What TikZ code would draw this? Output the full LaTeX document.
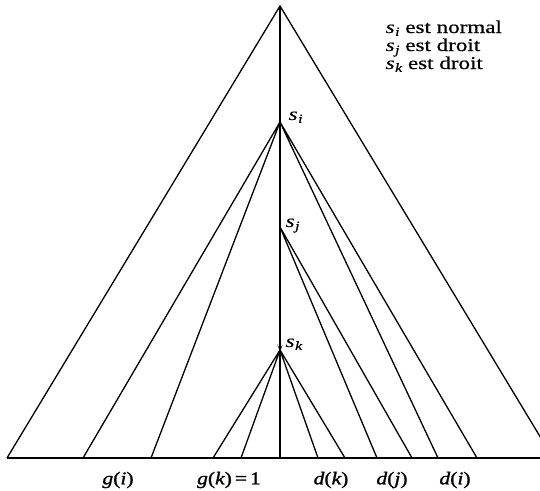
\documentclass[tikz,border=0pt]{standalone}
\usepackage{fontspec}
\setmainfont{Liberation Serif}[FakeStretch=1.28,FakeBold=0.5]
\newfontfamily\lblfont{Liberation Serif}[FakeStretch=1.2,FakeBold=1.3]
\newcommand{\ssub}[2]{{\itshape #1}\kern0.5pt\raisebox{-0.35ex}{\fontsize{12.5}{12.5}\selectfont\itshape #2}}
\begin{document}
\begin{tikzpicture}[x=1pt,y=-1pt,line width=1.3pt,line join=miter,
  lbl/.style={inner sep=0pt,font=\lblfont\fontsize{18}{18}\selectfont},
  txt/.style={inner sep=0pt,anchor=base west,font=\fontsize{18}{18}\selectfont}]
\clip (0,0) rectangle (540,490);
% vertices
\coordinate (top) at (280,6);
\coordinate (L) at (7,458);
\coordinate (R) at (553,458);
\coordinate (si) at (280,122);
\coordinate (sj) at (280,227);
\coordinate (sk) at (280,350);
\coordinate (bv) at (280,458);
\coordinate (gi1) at (83,458);
\coordinate (gi2) at (151,458);
\coordinate (gk1) at (213,458);
\coordinate (gk2) at (241,458);
\coordinate (dk1) at (318,458);
\coordinate (dk2) at (345,458);
\coordinate (dj1) at (377,458);
\coordinate (dj2) at (412,458);
\coordinate (di1) at (438,458);
\coordinate (di2) at (477,458);
% outer triangle
\draw (L) -- (top) -- (R);
\draw (L) -- (R);
\draw (top) -- (bv);
% s_i
\draw (gi1) -- (si) -- (gi2);
\draw (di1) -- (si) -- (di2);
% s_j
\draw (dj1) -- (sj) -- (dj2);
% s_k
\draw (gk1) -- (sk) -- (gk2);
\draw (dk1) -- (sk) -- (dk2);
% node labels
\node[txt] (lsi) at (288,120) {\ssub{s}{i}};
\node[txt] (lsj) at (285,227) {\ssub{s}{j}};
\node[txt] (lsk) at (285,347) {\ssub{s}{k}};
% legend
\node[txt] (t1) at (385,33) {\ssub{s}{i} est normal};
\node[txt] (t2) at (385,51) {\ssub{s}{j} est droit};
\node[txt] (t3) at (385,69) {\ssub{s}{k} est droit};
% bottom labels
\node[lbl] (lgi) at (118,480) {{\itshape g}({\itshape i})};
\node[lbl] (lgk) at (229,480) {{\itshape g}({\itshape k})\,=\,1};
\node[lbl] (ldk) at (331,480) {{\itshape d}({\itshape k})};
\node[lbl] (ldj) at (392,480) {{\itshape d}({\itshape j})};
\node[lbl] (ldi) at (455,480) {{\itshape d}({\itshape i})};
\end{tikzpicture}
\end{document}
